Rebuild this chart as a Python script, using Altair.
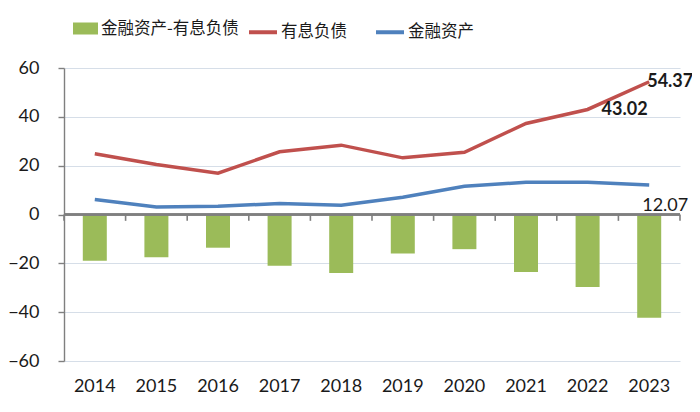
import altair as alt
import pandas as pd

years = ["2014", "2015", "2016", "2017", "2018", "2019", "2020", "2021", "2022", "2023"]
debt = [24.9, 20.5, 16.9, 25.7, 28.4, 23.2, 25.5, 37.3, 43.02, 54.37]
assets = [6.1, 3.1, 3.4, 4.5, 3.8, 7.1, 11.6, 13.2, 13.2, 12.07]
diff = [-18.9, -17.5, -13.6, -21.0, -24.0, -16.0, -14.2, -23.6, -29.7, -42.3]

s_diff = "金融资产-有息负债"
s_debt = "有息负债"
s_assets = "金融资产"

bar_df = pd.DataFrame({"year": years, "value": diff, "series": s_diff})
line_df = pd.concat([
    pd.DataFrame({"year": years, "value": debt, "series": s_debt, "order": 0}),
    pd.DataFrame({"year": years, "value": assets, "series": s_assets, "order": 1}),
])

lab_year = ["2023", "2022", "2023"]
lab_value = [54.37, 43.02, 12.07]
lab_text = ["54.37", "43.02", "12.07"]
lab_df = pd.DataFrame({"year": lab_year, "value": lab_value, "text": lab_text})

FONT_NUM = "Lato"
FONT_CJK = "Noto Sans CJK SC"
AXIS_GREY = "#7f7f7f"

x_scale = alt.Scale(domain=years, paddingInner=0, paddingOuter=0)
y_scale = alt.Scale(domain=[-60, 60], nice=False)

x_axis = alt.Axis(title=None, domain=False, ticks=False, grid=False,
                  labelFont=FONT_NUM, labelFontSize=18, labelColor="#1a1a1a",
                  labelPadding=16, labelAngle=0)
y_axis = alt.Axis(title=None, values=[-60, -40, -20, 0, 20, 40, 60],
                  domain=True, domainColor=AXIS_GREY, domainWidth=1.4,
                  ticks=True, tickColor=AXIS_GREY, tickSize=6, tickWidth=1.4,
                  grid=True, gridColor="#d6dee8", gridWidth=1.2,
                  labelFont=FONT_NUM, labelFontSize=18, labelColor="#1a1a1a",
                  labelPadding=19)

bars = alt.Chart(bar_df).mark_bar(size=24).encode(
    x=alt.X("year:N", scale=x_scale, axis=x_axis, sort=years),
    y=alt.Y("value:Q", scale=y_scale, axis=y_axis),
    color=alt.Color("series:N",
                    scale=alt.Scale(domain=[s_diff], range=["#9bbb59"]),
                    legend=alt.Legend(title=None, orient="none", legendX=9, legendY=-52,
                                      symbolType="M-1,-0.48H1V0.48H-1Z", symbolSize=625,
                                      symbolStrokeWidth=0, labelFont=FONT_CJK,
                                      labelFontSize=16.5, labelColor="#1a1a1a",
                                      labelOffset=3, labelLimit=400)),
)

# zero axis line
zero_axis = alt.Chart(bar_df).mark_rule(color=AXIS_GREY, strokeWidth=1.4).encode(
    y=alt.datum(0, scale=y_scale),
)

# category-boundary tick marks hanging below the zero line
ticks_start = alt.Chart(bar_df).mark_rule(color=AXIS_GREY, strokeWidth=1.6).encode(
    x=alt.X("year:N", scale=x_scale, sort=years, bandPosition=0),
    y=alt.datum(0, scale=y_scale),
    y2=alt.datum(-2.6),
)
ticks_end = alt.Chart(bar_df).transform_filter(alt.datum.year == years[-1]).mark_rule(
    color=AXIS_GREY, strokeWidth=1.6).encode(
    x=alt.X("year:N", scale=x_scale, sort=years, bandPosition=1),
    y=alt.datum(0, scale=y_scale),
    y2=alt.datum(-2.6),
)

lines = alt.Chart(line_df).mark_line(strokeWidth=3.5).encode(
    x=alt.X("year:N", scale=x_scale, sort=years),
    y=alt.Y("value:Q", scale=y_scale),
    stroke=alt.Stroke("series:N",
                      scale=alt.Scale(domain=[s_debt, s_assets], range=["#c0504d", "#4f81bd"]),
                      legend=alt.Legend(title=None, orient="none", legendX=183, legendY=-52,
                                        direction="horizontal", symbolType="stroke",
                                        symbolSize=784, symbolStrokeWidth=4,
                                        labelFont=FONT_CJK, labelFontSize=16.5,
                                        labelColor="#1a1a1a", labelOffset=2,
                                        columnPadding=21, labelLimit=400)),
    detail="order:N",
)

lab_base = alt.Chart(lab_df).encode(
    x=alt.X("year:N", scale=x_scale, sort=years),
    y=alt.Y("value:Q", scale=y_scale),
    text="text:N",
)
lab1 = lab_base.transform_filter(alt.datum.text == "54.37").mark_text(
    align="left", baseline="middle", dx=-2, dy=0, font=FONT_NUM, fontSize=18,
    fontWeight="bold", color="#1a1a1a")
lab2 = lab_base.transform_filter(alt.datum.text == "43.02").mark_text(
    align="left", baseline="middle", dx=14, dy=1, font=FONT_NUM, fontSize=18,
    fontWeight="bold", color="#1a1a1a")
lab3 = lab_base.transform_filter(alt.datum.text == "12.07").mark_text(
    align="left", baseline="middle", dx=-7, dy=21, font=FONT_NUM, fontSize=18,
    color="#1a1a1a")

chart = alt.layer(bars, zero_axis, ticks_start, ticks_end, lines, lab1, lab2, lab3).resolve_scale(
    color="independent"
).properties(
    width=616, height=293,
    autosize=alt.AutoSizeParams(type="none"),
    padding={"left": 56, "top": 60, "right": 12, "bottom": 43},
    background="white",
).configure_view(stroke=None)

chart.save("out.html", embed_options={"renderer": "svg", "actions": False})
